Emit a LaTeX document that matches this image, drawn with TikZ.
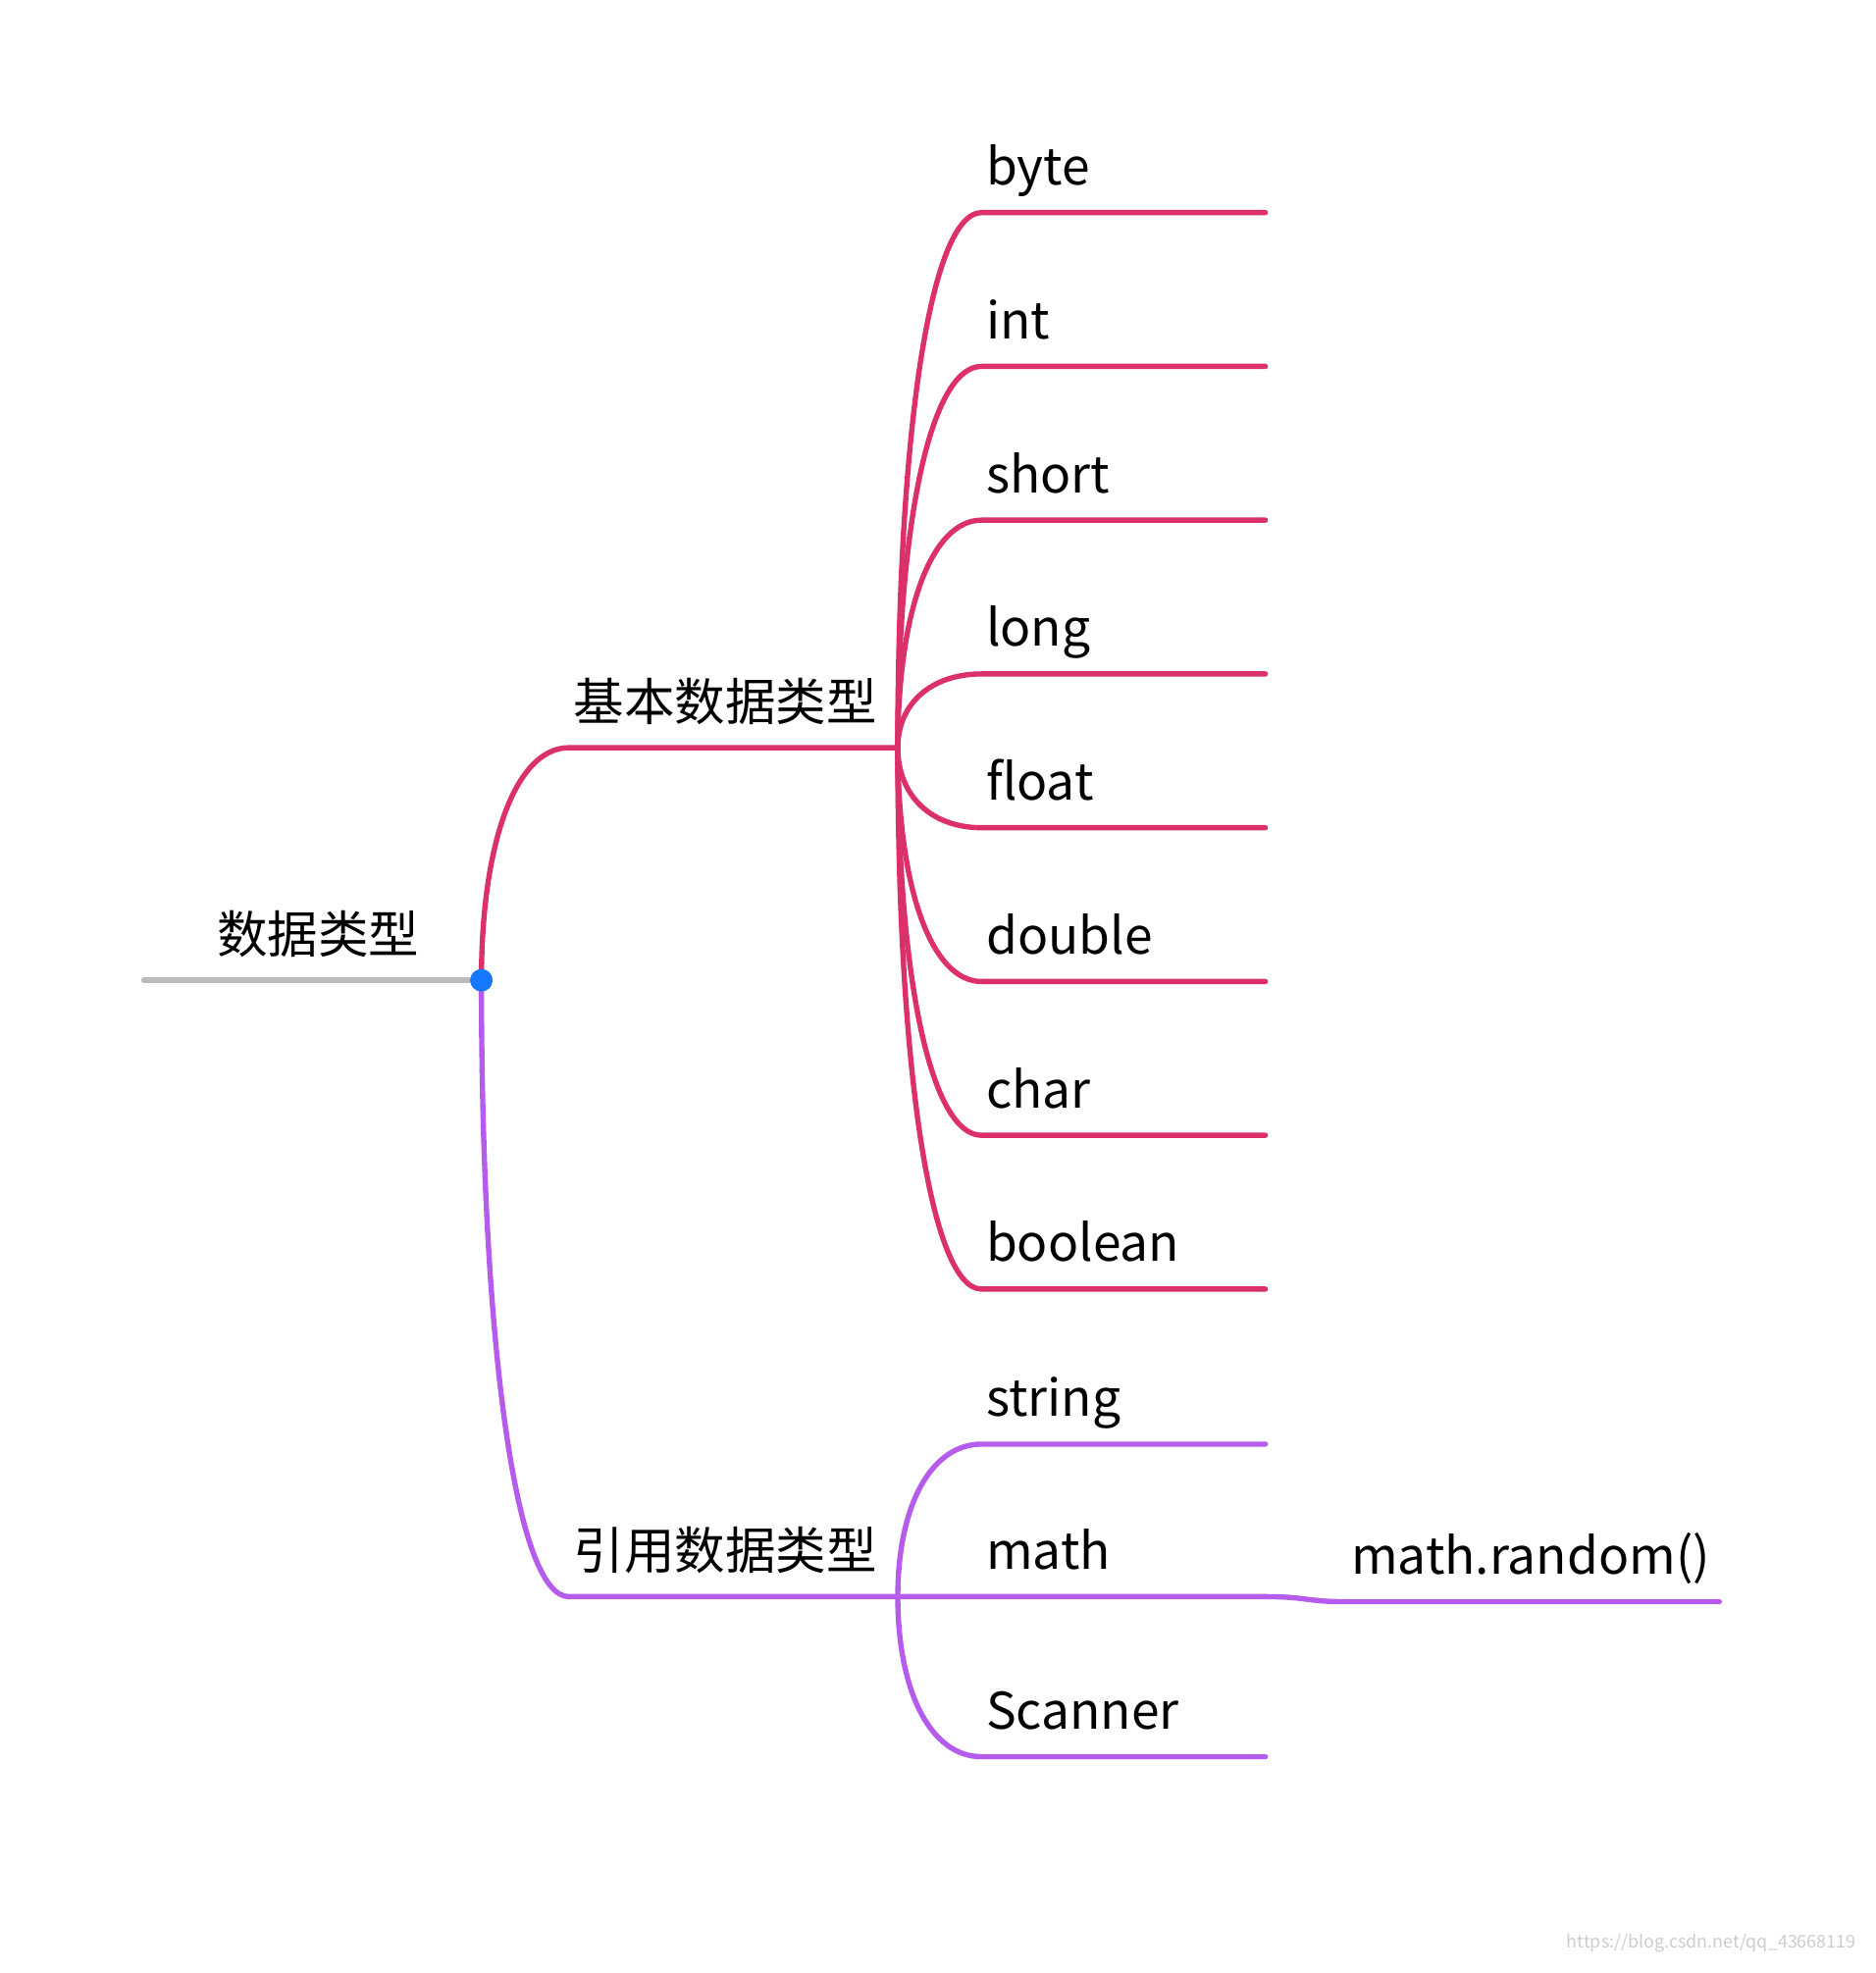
\documentclass[tikz,border=0pt]{standalone}
\usepackage{fontspec}
\setmainfont{Noto Sans CJK SC}
\usetikzlibrary{calc}
\definecolor{basicred}{HTML}{DB3069}
\definecolor{refpurple}{HTML}{B65CEC}
\definecolor{rootgray}{HTML}{BBBBBB}
\definecolor{dotblue}{HTML}{1677FF}

\begin{document}
\begin{tikzpicture}[
            line cap = round, % soft line ends
            branch/.style = {line width = 1.2pt,
                to path = {.. controls ($(\tikztostart)!0.6!(\tikztostart |- \tikztotarget)$)
                    and ($(\tikztostart |- \tikztotarget)!0.4!(\tikztotarget)$) .. (\tikztotarget)}},
            label/.style = {anchor = base west, inner sep = 0pt,
                font = \fontsize{11.5}{13}\selectfont}
        ]

        \useasboundingbox (0,0) rectangle (15,-15.78);

        % root
        \coordinate (start) at (1.15,-7.84);
        \coordinate (root) at (3.85,-7.84);
        \draw[rootgray, line width = 1.2pt] (start) -- (root);
        \node[label] (types) at (1.73,-7.62) {数据类型};

        % basic types
        \coordinate (basic-k) at (4.55,-5.98);
        \coordinate (basic) at (7.18,-5.98);
        \draw[basicred, branch] (root) to (basic-k) -- (basic);
        \node[label] (basic-l) at (4.58,-5.76) {基本数据类型};
        \foreach \name/\y in {byte/1.70, int/2.93, short/4.16, long/5.39,
                float/6.62, double/7.85, char/9.08, boolean/10.31} {
            \coordinate (\name-k) at (7.85,-\y);
            \coordinate (\name-e) at (10.12,-\y);
            \draw[basicred, branch] (basic) to (\name-k) -- (\name-e);
            \node[label] (\name) at ($(\name-k)+(0.03,0.22)$) {\name};
        }

        % reference types
        \coordinate (ref-k) at (4.55,-12.77);
        \coordinate (ref) at (7.18,-12.77);
        \draw[refpurple, branch] (root) to (ref-k) -- (ref);
        \node[label] (ref-l) at (4.58,-12.55) {引用数据类型};
        \foreach \name/\y in {string/11.55, math/12.77, Scanner/14.05} {
            \coordinate (\name-k) at (7.85,-\y);
            \coordinate (\name-e) at (10.12,-\y);
            \draw[refpurple, branch] (ref) to (\name-k) -- (\name-e);
            \node[label] (\name) at ($(\name-k)+(0.03,0.22)$) {\name};
        }
        \coordinate (random-k) at (10.75,-12.81);
        \coordinate (random-e) at (13.75,-12.81);
        \draw[refpurple, line width = 1.2pt] (math-e) .. controls (10.45,-12.77) and (10.45,-12.81) .. (random-k) -- (random-e);
        \node[label] (random) at ($(random-k)+(0.05,0.22)$) {math.random()};

        \fill[dotblue] (root) circle (0.09);

        \node[anchor = base east, inner sep = 0pt, text = gray!40,
            font = \fontsize{4}{5}\selectfont] (mark) at (14.85,-15.58) {https://blog.csdn.net/qq\_43668119};
    \end{tikzpicture}
\end{document}
